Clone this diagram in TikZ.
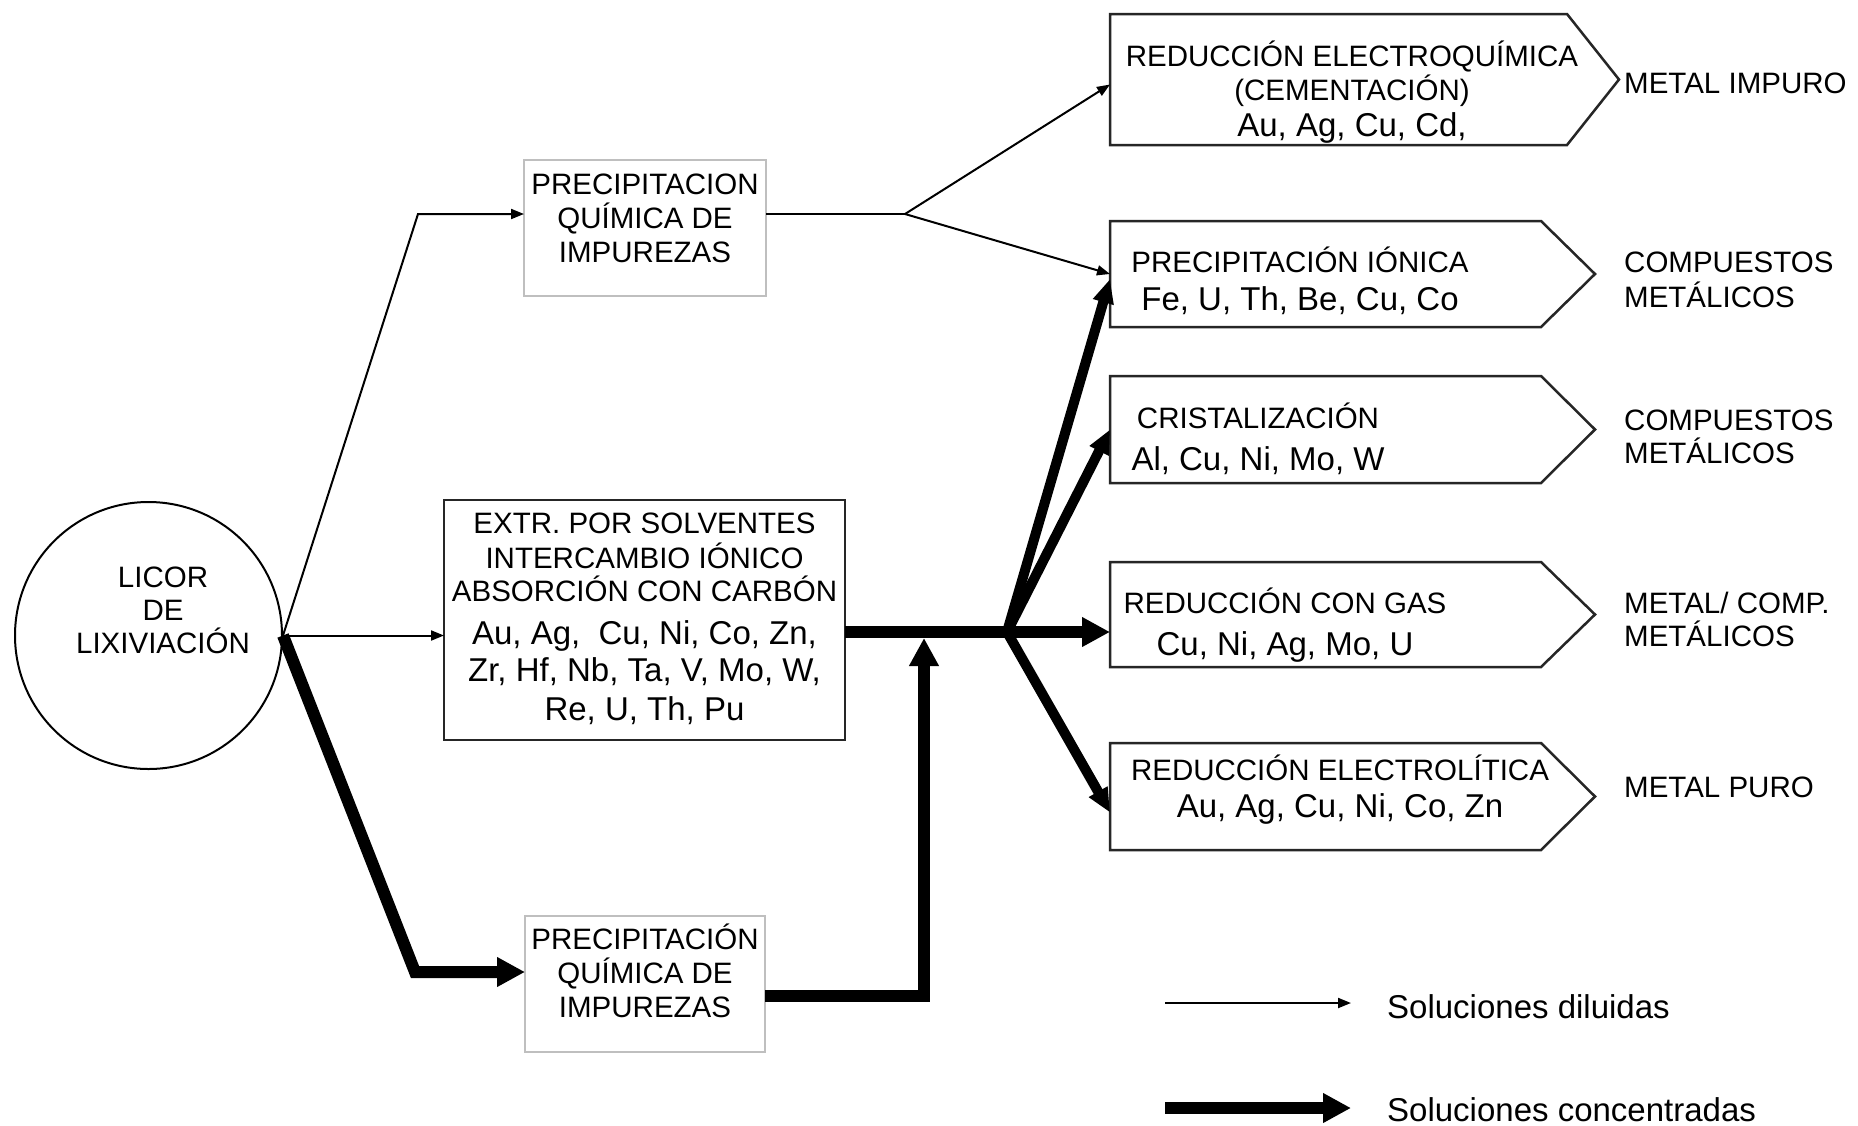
\documentclass[tikz,border=0pt]{standalone}
\usepackage{fontspec}
\setmainfont{Liberation Sans}
\usetikzlibrary{arrows.meta}
\begin{document}
\begin{tikzpicture}[x=1pt,y=-1pt,
  capf/.style={font=\fontsize{29.5}{34}\selectfont, inner sep=0pt, anchor=base},
  elf/.style={font=\fontsize{33}{38}\selectfont, inner sep=0pt, anchor=base},
  lab/.style={font=\fontsize{29.5}{34}\selectfont, inner sep=0pt, anchor=base west},
  thinarr/.style={line width=2pt, -{Triangle[length=13pt,width=10pt]}},
  thinline/.style={line width=2pt},
  thickline/.style={line width=12pt},
  thickarr/.style={line width=12pt, line join=miter, -{Triangle[length=28pt,width=28pt]}},
  thinnerarr/.style={line width=10pt, -{Triangle[length=24pt,width=20pt]}},
  precbox/.style={draw=black!25, line width=2pt, inner sep=0pt, outer sep=0pt},
  extrbox/.style={draw=black!85, line width=2.5pt, inner sep=0pt, outer sep=0pt},
  pentbody/.style={inner sep=0pt, outer sep=0pt},
  pent/.style={draw=black!85, line width=2.5pt, line join=miter}
]
\useasboundingbox (0,0) rectangle (1858,1125);
\fill[white] (0,0) rectangle (1858,1125);

% circle
\node[draw, circle, line width=2pt, minimum size=267pt, inner sep=0pt] (circ) at (148.5,635.5) {};
\node[capf] (l1) at (163,587.5) {LICOR};
\node[capf] (l2) at (163,620.5) {DE};
\node[capf] (l3) at (163,653.5) {LIXIVIACIÓN};

% top precipitation box
\node[precbox, minimum width=242pt, minimum height=136pt] (tp) at (645,228) {};
\node[capf] (tp1) at (645,194.5) {PRECIPITACION};
\node[capf] (tp2) at (645,228.5) {QUÍMICA DE};
\node[capf] (tp3) at (645,262.5) {IMPUREZAS};

% extraction box
\node[extrbox, minimum width=401pt, minimum height=240pt] (extr) at (644.5,620) {};
\node[capf] (e1) at (644.5,533.5) {EXTR. POR SOLVENTES};
\node[capf] (e2) at (644.5,568) {INTERCAMBIO IÓNICO};
\node[capf] (e3) at (644.5,601.5) {ABSORCIÓN CON CARBÓN};
\node[elf] (e4) at (644.5,644) {Au, Ag,\ \ Cu, Ni, Co, Zn,};
\node[elf] (e5) at (644.5,681) {Zr, Hf, Nb, Ta, V, Mo, W,};
\node[elf] (e6) at (644.5,720) {Re, U, Th, Pu};

% bottom precipitation box
\node[precbox, minimum width=240pt, minimum height=136pt] (bp) at (645,984) {};
\node[capf] (bp1) at (645,949.5) {PRECIPITACIÓN};
\node[capf] (bp2) at (645,983.5) {QUÍMICA DE};
\node[capf] (bp3) at (645,1017.5) {IMPUREZAS};

% pentagons
\node[pentbody, minimum width=457pt, minimum height=131pt] (p1) at (1338.5,79.5) {};
\draw[pent] (p1.north west) -- (p1.north east) -- ([xshift=52pt]p1.east) -- (p1.south east) -- (p1.south west) -- cycle;
\node[capf] (p1a) at (1352,66.5) {REDUCCIÓN ELECTROQUÍMICA};
\node[capf] (p1b) at (1352,100.5) {(CEMENTACIÓN)};
\node[elf] (p1c) at (1352,136) {Au, Ag, Cu, Cd,};

\node[pentbody, minimum width=431pt, minimum height=106pt] (p2) at (1325.5,274) {};
\draw[pent] (p2.north west) -- (p2.north east) -- ([xshift=54pt]p2.east) -- (p2.south east) -- (p2.south west) -- cycle;
\node[capf] (p2a) at (1300,272.5) {PRECIPITACIÓN IÓNICA};
\node[elf] (p2b) at (1300,310) {Fe, U, Th, Be, Cu, Co};

\node[pentbody, minimum width=431pt, minimum height=107pt] (p3) at (1325.5,429.5) {};
\draw[pent] (p3.north west) -- (p3.north east) -- ([xshift=54pt]p3.east) -- (p3.south east) -- (p3.south west) -- cycle;
\node[capf] (p3a) at (1258,428.5) {CRISTALIZACIÓN};
\node[elf] (p3b) at (1258,470) {Al, Cu, Ni, Mo, W};

\node[pentbody, minimum width=431pt, minimum height=105pt] (p4) at (1325.5,614.5) {};
\draw[pent] (p4.north west) -- (p4.north east) -- ([xshift=54pt]p4.east) -- (p4.south east) -- (p4.south west) -- cycle;
\node[capf] (p4a) at (1285,613.5) {REDUCCIÓN CON GAS};
\node[elf] (p4b) at (1285,655) {Cu, Ni, Ag, Mo, U};

\node[pentbody, minimum width=431pt, minimum height=107pt] (p5) at (1325.5,796.5) {};
\draw[pent] (p5.north west) -- (p5.north east) -- ([xshift=54pt]p5.east) -- (p5.south east) -- (p5.south west) -- cycle;
\node[capf] (p5a) at (1340,780.5) {REDUCCIÓN ELECTROLÍTICA};
\node[elf] (p5b) at (1340,817) {Au, Ag, Cu, Ni, Co, Zn};

% right labels
\node[lab] (r1) at (1624,93.5) {METAL IMPURO};
\node[lab] (r2a) at (1624,272.5) {COMPUESTOS};
\node[lab] (r2b) at (1624,307.5) {METÁLICOS};
\node[lab] (r3a) at (1624,430.5) {COMPUESTOS};
\node[lab] (r3b) at (1624,463.5) {METÁLICOS};
\node[lab] (r4a) at (1624,613.5) {METAL/ COMP.};
\node[lab] (r4b) at (1624,646.5) {METÁLICOS};
\node[lab] (r5) at (1624,797.5) {METAL PURO};

% coordinates
\coordinate (c1) at (418,214);
\coordinate (c2) at (415,972);
\coordinate (c3) at (924,996);
\coordinate (c4) at (924,638);
\coordinate (j) at (1007,632);
\coordinate (tj) at (905,214);

% connectors
\draw[thinarr] (circ.east) -- (c1) -- (c1 -| tp.west);
\draw[thinarr] (circ.east) -- (circ.east -| extr.west);
\draw[thickarr] (circ.east) -- (c2) -- (c2 -| bp.west);
\draw[thickline] (extr.east |- j) -- (j);
\draw[thickarr] (bp.east |- c3) -- (c3) -- (c4);
\draw[thinline] (tp.east |- tj) -- (tj);
\draw[thinarr] (tj) -- ([yshift=-5pt]p1.west);
\draw[thinarr] (tj) -- (p2.west);
\draw[thinnerarr] (j) -- ([yshift=-5pt]p2.west);
\draw[thinnerarr] (j) -- (p3.west);
\draw[thickarr] (j) -- (j -| p4.west);
\draw[thinnerarr] (j) -- ([yshift=-16pt]p5.west);

% legend
\coordinate (la) at (1165,1003);
\coordinate (lb) at (1351,1003);
\coordinate (lc) at (1165,1108);
\coordinate (ld) at (1351,1108);
\draw[thinarr] (la) -- (lb);
\draw[thickarr] (lc) -- (ld);
\node[font=\fontsize{33}{38}\selectfont, inner sep=0pt, anchor=base west] (leg1) at (1387,1018) {Soluciones diluidas};
\node[font=\fontsize{33}{38}\selectfont, inner sep=0pt, anchor=base west] (leg2) at (1387,1121) {Soluciones concentradas};
\end{tikzpicture}
\end{document}
